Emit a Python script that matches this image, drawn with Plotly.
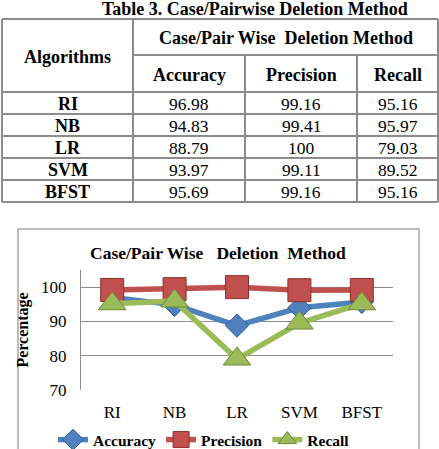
import plotly.graph_objects as go

algorithms = ["RI", "NB", "LR", "SVM", "BFST"]
metrics = ["Accuracy", "Precision", "Recall"]
accuracy = [96.98, 94.83, 88.79, 93.97, 95.69]
precision = [99.16, 99.41, 100, 99.11, 99.16]
recall = [95.16, 95.97, 79.03, 89.52, 95.16]

W, H = 439, 449
FONT = "Liberation Serif, Times New Roman, serif"
LINE_C = "#8c8c8c"
NB = "\u00a0"


def px(x):
    return x / W


def py(y):
    return 1 - y / H


fig = go.Figure()

colors = {"Accuracy": "#4F81BD", "Precision": "#C0504D", "Recall": "#9BBB59"}
borders = {"Accuracy": "#2f5f96", "Precision": "#8e2e2b", "Recall": "#6f8a38"}
symbols = {"Accuracy": "diamond", "Precision": "square", "Recall": "triangle-up"}
sizes = {"Accuracy": 18, "Precision": 23, "Recall": 24}
series = {"Accuracy": accuracy, "Precision": precision, "Recall": recall}

for m in metrics:
    fig.add_trace(go.Scatter(
        x=algorithms, y=series[m], name=m, mode="lines+markers",
        line=dict(color=colors[m], width=5.5),
        marker=dict(symbol=symbols[m], size=sizes[m], color=colors[m],
                    line=dict(color=borders[m], width=1)),
    ))

# ---------- Table (drawn with shapes/annotations) ----------
col_edges = [2, 133, 245, 357, 438]
top, hdr_mid, hdr_bot = 19, 55, 92
row_h = 22
bottom = hdr_bot + row_h * len(algorithms)

shapes = []


def hline(x0, x1, y):
    shapes.append(dict(type="line", xref="paper", yref="paper", x0=px(x0), x1=px(x1),
                       y0=py(y), y1=py(y), line=dict(color=LINE_C, width=2)))


def vline(x, y0, y1):
    shapes.append(dict(type="line", xref="paper", yref="paper", x0=px(x), x1=px(x),
                       y0=py(y0), y1=py(y1), line=dict(color=LINE_C, width=2)))


hline(col_edges[0], col_edges[-1], top)
hline(col_edges[1], col_edges[-1], hdr_mid)
for i in range(len(algorithms) + 1):
    hline(col_edges[0], col_edges[-1], hdr_bot + i * row_h)
vline(col_edges[0], top, bottom)
vline(col_edges[1], top, bottom)
vline(col_edges[2], hdr_mid, bottom)
vline(col_edges[3], hdr_mid, bottom)
vline(col_edges[4], top, bottom)

# chart border
shapes.append(dict(type="rect", xref="paper", yref="paper", x0=px(18), x1=px(419),
                   y0=py(229), y1=-0.05, line=dict(color="#a6a6a6", width=1.5)))

annotations = []


def txt(x, y, s, size, bold=False):
    annotations.append(dict(xref="paper", yref="paper", x=px(x), y=py(y),
                            text=f"<b>{s}</b>" if bold else s, showarrow=False,
                            xanchor="center", yanchor="middle",
                            font=dict(family=FONT, size=size, color="black")))


txt(255, 9, "Table 3. Case/Pairwise Deletion Method", 18, True)
txt((col_edges[0] + col_edges[1]) / 2, 57, "Algorithms", 18, True)
txt((col_edges[1] + col_edges[4]) / 2, 38, f"Case/Pair Wise {NB}Deletion Method", 18, True)
for j, m in enumerate(metrics):
    txt((col_edges[j + 1] + col_edges[j + 2]) / 2, 75, m, 18, True)
for i, a in enumerate(algorithms):
    yc = hdr_bot + row_h * i + row_h / 2 + 1
    txt((col_edges[0] + col_edges[1]) / 2, yc, a, 18, True)
    for j, m in enumerate(metrics):
        txt((col_edges[j + 1] + col_edges[j + 2]) / 2, yc, f"{series[m][i]:g}", 17.5)

# chart title
txt(218, 253, f"Case/Pair Wise {NB}{NB}Deletion {NB}Method", 17.5, True)

fig.update_layout(
    width=W, height=H,
    margin=dict(l=0, r=0, t=0, b=0, autoexpand=False),
    paper_bgcolor="white", plot_bgcolor="white",
    font=dict(family=FONT, color="black"),
    shapes=shapes, annotations=annotations,
    showlegend=True,
    legend=dict(orientation="h", x=px(204), y=py(440), xanchor="center", yanchor="middle",
                font=dict(family=FONT, size=15.5, color="black", weight="bold"),
                itemwidth=30, tracegroupgap=0, bgcolor="rgba(0,0,0,0)"),
    xaxis=dict(domain=[px(81), px(393)], range=[-0.5, 4.5], showgrid=False,
               showline=False, zeroline=False, ticks="", ticklabelstandoff=10,
               tickfont=dict(family=FONT, size=17, color="black")),
    yaxis=dict(domain=[py(390), py(270)], range=[70, 105], tickvals=[70, 80, 90, 100],
               showgrid=True, gridcolor="#8c8c8c", gridwidth=1, showline=True,
               linecolor="#8c8c8c", linewidth=1, zeroline=False, ticks="",
               ticklabelstandoff=10,
               tickfont=dict(family=FONT, size=17, color="black"),
               title=dict(text="<b>Percentage</b>", standoff=8,
                          font=dict(family=FONT, size=16, color="black"))),
)

fig.write_html("out.html")
